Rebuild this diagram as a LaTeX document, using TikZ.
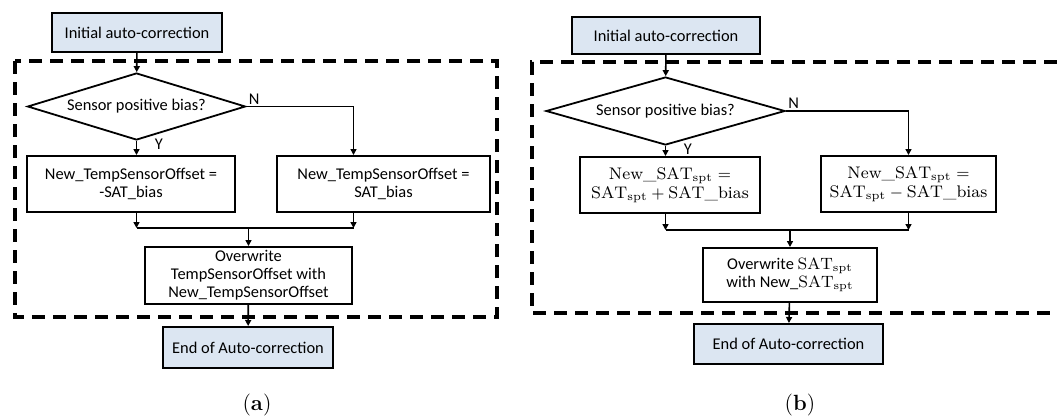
\documentclass[tikz,border=0pt]{standalone}
\usepackage{fontspec}
\newfontfamily\calfont{Carlito}
\usetikzlibrary{shapes.geometric,arrows.meta}
\definecolor{termblue}{HTML}{DCE6F2}

\begin{document}
\begin{tikzpicture}[x=0.5pt, y=-0.5pt,
    font=\calfont\fontsize{8.2}{9}\selectfont,
    box/.style={draw, line width=1pt, inner sep=1pt, align=center},
    startbox/.style={box, fill=termblue},
    decision/.style={draw, diamond, line width=0.9pt, inner sep=0pt},
    flow/.style={line width=0.8pt, -{Triangle[length=3pt,width=3pt]}},
    link/.style={line width=0.8pt},
    region/.style={line width=2pt, dash pattern=on 6.5pt off 4pt},
    yn/.style={inner sep=1pt}]
    \useasboundingbox (0,0) rectangle (1057,419);

    % Dashed regions
    \draw[region] (15,61) rectangle (497,317);
    \draw[region] (1057,62) -- (532,62) -- (532,313) -- (1057,313);

    % (a) TempSensorOffset
    \node[startbox, minimum width=85pt, minimum height=19.5pt] (iniA) at (137,32.5) {Initial auto-correction};
    \node[decision, aspect=3.25, minimum width=109pt, minimum height=33.5pt] (decA) at (136.5,106.5) {Sensor positive bias?};
    \node[box, minimum width=104pt, minimum height=28pt] (lbA) at (131,184) {New\_TempSensorOffset =\\-SAT\_bias};
    \node[box, minimum width=106.5pt, minimum height=28pt] (rbA) at (383.5,184) {New\_TempSensorOffset =\\SAT\_bias};
    \node[box, minimum width=103.5pt, minimum height=28.5pt] (owA) at (248.5,275.5) {Overwrite\\TempSensorOffset with\\New\_TempSensorOffset};
    \node[startbox, minimum width=85pt, minimum height=20.5pt] (endA) at (248,347.5) {End of Auto-correction};
    \coordinate (mA) at (248.5,228);
    \node[yn, anchor=south west] (nA) at (decA.east) {N};
    \node[yn, anchor=north west, xshift=8pt, yshift=2pt] (yA) at (decA.south) {Y};

    \draw[flow] (iniA) -- (decA);
    \draw[flow] (decA.south) -- (decA.south |- lbA.north);
    \draw[flow] (decA.east) -| ([xshift=-15pt]rbA.north);
    \draw[flow] (decA.south |- lbA.south) -- (decA.south |- mA);
    \draw[flow] ([xshift=-15pt]rbA.south) -- ([xshift=-15pt]rbA.south |- mA);
    \draw[link] (decA.south |- mA) -- ([xshift=-15pt]rbA.south |- mA);
    \draw[flow] (mA) -- (owA);
    \draw[flow] (owA) -- (endA);

    % (b) SAT setpoint
    \node[startbox, minimum width=94pt, minimum height=18.5pt] (iniB) at (666,35.5) {Initial auto-correction};
    \node[decision, aspect=3.5, minimum width=119.5pt, minimum height=34pt] (decB) at (665.5,111) {Sensor positive bias?};
    \node[box, minimum width=90pt, minimum height=28pt, font=\fontsize{8.4}{9.5}\selectfont] (lbB) at (670,185) {$\mathrm{New\_SAT_{spt}} =$\\$\mathrm{SAT_{spt}} + \mathrm{SAT\_bias}$};
    \node[box, minimum width=87.5pt, minimum height=28pt, font=\fontsize{8.4}{9.5}\selectfont] (rbB) at (908.5,184) {$\mathrm{New\_SAT_{spt}} =$\\$\mathrm{SAT_{spt}} - \mathrm{SAT\_bias}$};
    \node[box, minimum width=87pt, minimum height=27pt] (owB) at (790,275) {Overwrite $\mathrm{SAT_{spt}}$\\with New\_$\mathrm{SAT_{spt}}$};
    \node[startbox, minimum width=94.5pt, minimum height=20pt] (endB) at (788.5,344) {End of Auto-correction};
    \coordinate (mB) at (790,230);
    \node[yn, anchor=south west] (nB) at (decB.east) {N};
    \node[yn, anchor=north west, xshift=8pt, yshift=2pt] (yB) at (decB.south) {Y};

    \draw[flow] (iniB) -- (decB);
    \draw[flow] (decB.south) -- (decB.south |- lbB.north);
    \draw[flow] (decB.east) -| (rbB.north);
    \draw[flow] (decB.south |- lbB.south) -- (decB.south |- mB);
    \draw[flow] (rbB.south) -- (rbB.south |- mB);
    \draw[link] (decB.south |- mB) -- (rbB.south |- mB);
    \draw[flow] (mB) -- (owB);
    \draw[flow] (owB) -- (endB);

    % Captions
    \node[font=\rmfamily\fontsize{11}{13}\selectfont] (capA) at (257,405) {(\textbf{a})};
    \node[font=\rmfamily\fontsize{11}{13}\selectfont] (capB) at (800,405) {(\textbf{b})};
\end{tikzpicture}
\end{document}
